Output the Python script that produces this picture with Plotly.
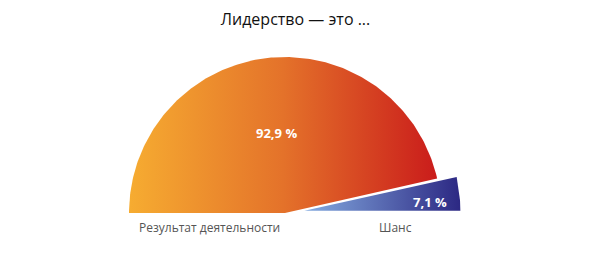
import numpy as np
import plotly.graph_objects as go

title = "Лидерство — это ..."
categories = ["Результат деятельности", "Шанс"]
values = [92.9, 7.1]
value_labels = ["92,9 %", "7,1 %"]
gradients = [
    [[0, "#F6AC31"], [0.5, "#E4722A"], [1, "#CA1C1B"]],
    [[0, "#84ABE0"], [1, "#2C2883"]],
]
pulls = [0.0, 0.125]
label_r = [0.515, 0.808]
label_frac = [0.5, 0.31]
cat_pos = [(-0.481, -0.09), (0.71, -0.09)]

fig = go.Figure()
total = sum(values)
start = 180.0
annotations = []
for i, v in enumerate(values):
    span = v / total * 180.0
    a0, a1 = start, start - span
    mid = np.radians((a0 + a1) / 2)
    cx, cy = pulls[i] * np.cos(mid), pulls[i] * np.sin(mid)
    th = np.radians(np.linspace(a0, a1, 200))
    xs = np.concatenate([[cx], cx + np.cos(th), [cx]])
    ys = np.concatenate([[cy], cy + np.sin(th), [cy]])
    fig.add_trace(go.Scatter(
        x=xs, y=ys, mode="lines", fill="toself",
        line=dict(width=0),
        fillgradient=dict(type="horizontal", colorscale=gradients[i]),
        hoverinfo="skip", showlegend=False,
    ))
    la = np.radians(a1 + label_frac[i] * (a0 - a1))
    annotations.append(dict(
        x=cx + label_r[i] * np.cos(la), y=cy + label_r[i] * np.sin(la),
        text="<b>%s</b>" % value_labels[i], showarrow=False,
        font=dict(family="Open Sans", size=13, color="white"),
        xref="x", yref="y",
    ))
    annotations.append(dict(
        x=cat_pos[i][0], y=cat_pos[i][1], text=categories[i], showarrow=False,
        font=dict(family="Open Sans", size=12, color="#555555"),
        xref="x", yref="y",
    ))
    start = a1

W, H = 591, 259
R = 156.0
cxp, cyp = 285.0, 213.0
fig.update_layout(
    width=W, height=H,
    margin=dict(l=0, r=0, t=0, b=0),
    paper_bgcolor="white", plot_bgcolor="white",
    xaxis=dict(range=[-cxp / R, (W - cxp) / R], visible=False, fixedrange=True),
    yaxis=dict(range=[-(H - cyp) / R, cyp / R], visible=False, fixedrange=True),
    title=dict(text=title, x=0.5, xanchor="center", y=1 - 19 / H, yanchor="middle",
               font=dict(family="Open Sans", size=16, color="#111111")),
    annotations=annotations,
)
fig.write_html("out.html")
